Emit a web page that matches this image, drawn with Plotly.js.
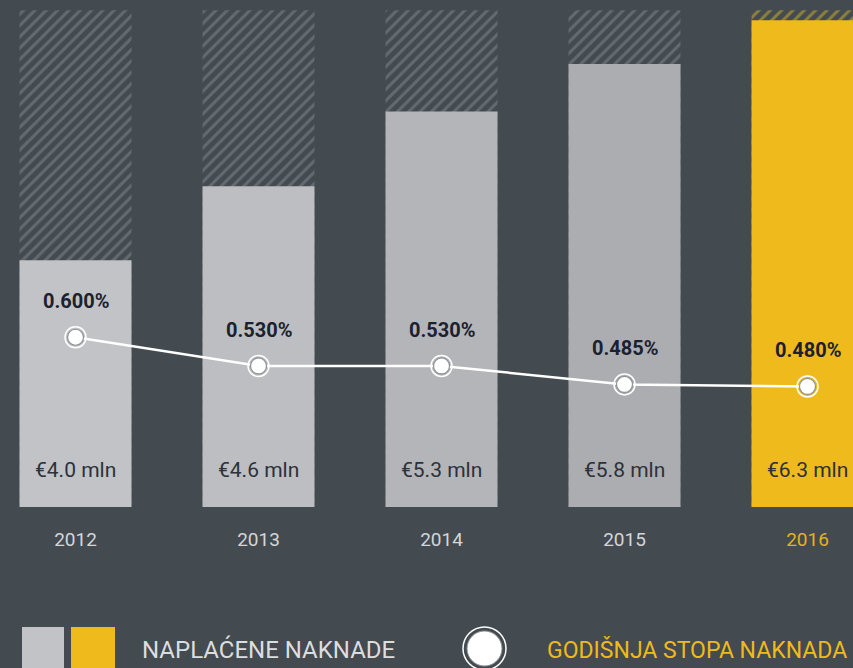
<!DOCTYPE html>
<html><head><meta charset="utf-8">
<script src="https://cdn.plot.ly/plotly-3.0.1.min.js"></script>
<style>html,body{margin:0;padding:0;background:#434a50;}#chart{width:853px;height:668px;}</style>
</head><body><div id="chart"></div>
<script>
// Data
var years = ['2012', '2013', '2014', '2015', '2016'];
var feesMln = [4.0, 4.6, 5.3, 5.8, 6.3];          // NAPLAĆENE NAKNADE (€ mln)
var feeRatePct = [0.600, 0.530, 0.530, 0.485, 0.480]; // GODIŠNJA STOPA NAKNADA (%)
var scaleMax = [6.42, 6.42, 6.42, 6.42, 6.42];     // hatched background ceiling
var feeLabels = ['€4.0 mln', '€4.6 mln', '€5.3 mln', '€5.8 mln', '€6.3 mln'];
var rateLabels = ['0.600%', '0.530%', '0.530%', '0.485%', '0.480%'];
var legendNames = ['NAPLAĆENE NAKNADE', 'GODIŠNJA STOPA NAKNADA'];

var BG = '#434a50';
var barColors = ['#c2c3c6', '#bdbec1', '#b4b5b8', '#acadb0', '#efba1b'];
var hatchFg = ['#636b6f', '#636b6f', '#636b6f', '#636b6f', '#8c7f3c'];
var FONT = 'Roboto, "DejaVu Sans", sans-serif';

var traces = [
  {type: 'bar', x: years, y: scaleMax, width: 0.612, hoverinfo: 'skip',
   marker: {color: BG, line: {width: 0},
     pattern: {shape: '/', fgcolor: hatchFg, bgcolor: BG, size: 8, solidity: 0.38, fillmode: 'replace'}}},
  {type: 'bar', x: years, y: feesMln, width: 0.612, name: legendNames[0],
   marker: {color: barColors, line: {width: 0}}},
  {type: 'scatter', mode: 'lines', x: years, y: feeRatePct, yaxis: 'y2',
   line: {color: '#ffffff', width: 2.5}, hoverinfo: 'skip'},
  {type: 'scatter', mode: 'markers', x: years, y: feeRatePct, yaxis: 'y2',
   marker: {size: 21, color: 'rgba(0,0,0,0)', line: {color: '#ffffff', width: 1.5}}, hoverinfo: 'skip'},
  {type: 'scatter', mode: 'markers', x: years, y: feeRatePct, yaxis: 'y2', name: legendNames[1],
   marker: {size: 16, color: '#ffffff', line: {color: '#8e9296', width: 1.2}}}
];

var annotations = [];
years.forEach(function (yr, i) {
  annotations.push({x: i, y: feeRatePct[i], xref: 'x', yref: 'y2', text: '<b>' + rateLabels[i] + '</b>',
    showarrow: false, yanchor: 'middle', yshift: 36, font: {family: FONT, size: 20, color: '#1c2130'}});
  annotations.push({x: i, y: 0.073, xref: 'x', yref: 'paper', text: feeLabels[i],
    showarrow: false, yanchor: 'middle', font: {family: FONT, size: 21, color: '#2c313a'}});
});
// legend texts
annotations.push({x: 140 / 853, y: (507 - 650) / 507, xref: 'paper', yref: 'paper', xanchor: 'left', yanchor: 'middle',
  text: legendNames[0], showarrow: false, font: {family: FONT, size: 24, color: '#dcdddf'}});
annotations.push({x: 545 / 853, y: (507 - 650) / 507, xref: 'paper', yref: 'paper', xanchor: 'left', yanchor: 'middle',
  text: legendNames[1], showarrow: false, font: {family: FONT, size: 23, color: '#efba1b'}});

function px(x) { return x / 853; }
function py(y) { return (507 - y) / 507; }
var shapes = [
  {type: 'rect', xref: 'paper', yref: 'paper', x0: px(22), x1: px(64), y0: py(627), y1: py(680), fillcolor: barColors[0], line: {width: 0}},
  {type: 'rect', xref: 'paper', yref: 'paper', x0: px(71), x1: px(115), y0: py(627), y1: py(680), fillcolor: barColors[4], line: {width: 0}},
  {type: 'circle', xref: 'paper', yref: 'paper', x0: px(463), x1: px(506), y0: py(627), y1: py(670), fillcolor: 'rgba(0,0,0,0)', line: {color: '#ffffff', width: 1.5}},
  {type: 'circle', xref: 'paper', yref: 'paper', x0: px(467), x1: px(502), y0: py(631), y1: py(666), fillcolor: '#ffffff', line: {color: '#8e9296', width: 1}}
];

var ticktext = years.map(function (y, i) {
  return i === 4 ? '<span style="color:#e3b220">' + y + '</span>' : y;
});

var layout = {
  width: 853, height: 668,
  paper_bgcolor: BG, plot_bgcolor: BG,
  margin: {l: 0, r: 0, t: 0, b: 161, pad: 0},
  showlegend: false,
  barmode: 'overlay',
  xaxis: {type: 'category', range: [-0.4126, 4.2486], showgrid: false, zeroline: false, showline: false,
    tickvals: years, ticktext: ticktext, ticks: 'outside', ticklen: 15, tickcolor: 'rgba(0,0,0,0)',
    tickfont: {family: FONT, size: 19, color: '#d5d6d8'}, fixedrange: true},
  yaxis: {type: 'log', range: [Math.log10(2.507), Math.log10(6.546)], visible: false, fixedrange: true},
  yaxis2: {overlaying: 'y', range: [0.186, 1.4226], visible: false, fixedrange: true},
  annotations: annotations,
  shapes: shapes
};

Plotly.newPlot('chart', traces, layout, {displayModeBar: false, staticPlot: true});
</script></body></html>
